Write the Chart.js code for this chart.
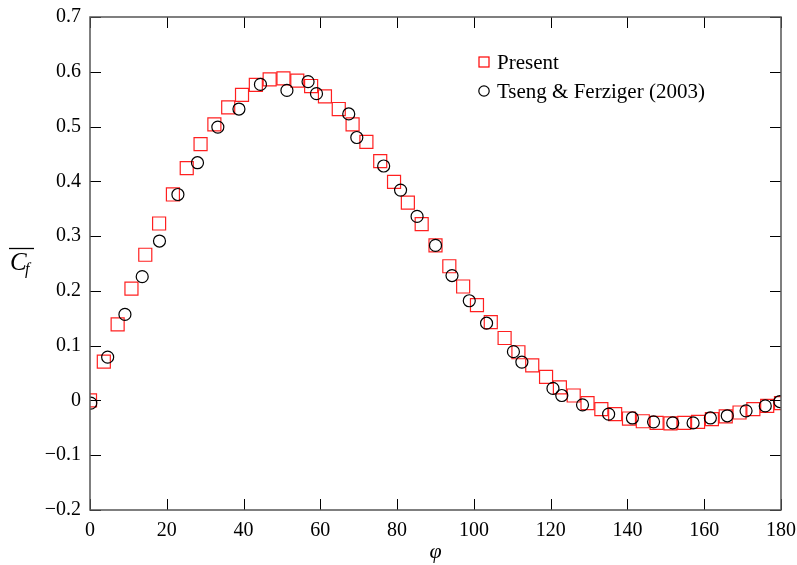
<!DOCTYPE html>
<html>
<head>
<meta charset="utf-8">
<script src="https://cdn.jsdelivr.net/npm/chart.js@4/dist/chart.umd.min.js"></script>
<style>
  body { margin: 0; background: #fff; }
  #wrap { width: 797px; height: 565px; }
</style>
</head>
<body>
<div id="wrap"><canvas id="c" width="797" height="565"></canvas></div>
<script>
// Present (red squares)
const presentPhi = [0, 3.6, 7.2, 10.8, 14.4, 18, 21.6, 25.2, 28.8, 32.4, 36, 39.6, 43.2, 46.8, 50.4, 54, 57.6,
  61.2, 64.8, 68.4, 72, 75.6, 79.2, 82.8, 86.4, 90, 93.6, 97.2, 100.8, 104.4, 108, 111.6, 115.2, 118.8,
  122.4, 126, 129.6, 133.2, 136.8, 140.4, 144, 147.6, 151.2, 154.8, 158.4, 162, 165.6, 169.2, 172.8, 176.4, 180];
const presentCf = [0.0, 0.071, 0.139, 0.204, 0.266, 0.323, 0.376, 0.424, 0.468, 0.504, 0.535, 0.558, 0.576, 0.586, 0.588, 0.584, 0.574,
  0.555, 0.532, 0.504, 0.472, 0.437, 0.399, 0.361, 0.322, 0.283, 0.245, 0.208, 0.174, 0.143, 0.114, 0.088, 0.064, 0.043,
  0.024, 0.009, -0.005, -0.016, -0.025, -0.033, -0.038, -0.041, -0.042, -0.041, -0.039, -0.034, -0.029, -0.022, -0.016, -0.010, -0.005];

// Tseng & Ferziger (2003) (black circles)
const tsengPhi = [0.2, 4.6, 9.1, 13.6, 18.1, 22.9, 28.0, 33.3, 38.8, 44.4, 51.3, 56.8, 59.0, 67.4, 69.5, 76.5, 80.9, 85.2,
  90.0, 94.3, 98.8, 103.3, 110.3, 112.5, 120.6, 122.9, 128.3, 135.1, 141.3, 146.8, 151.8, 157.1, 161.6, 166.0, 170.9, 175.9, 179.7];
const tsengCf = [-0.005, 0.079, 0.157, 0.226, 0.291, 0.376, 0.434, 0.499, 0.532, 0.577, 0.566, 0.582, 0.560, 0.523, 0.480, 0.428, 0.384, 0.336,
  0.283, 0.228, 0.182, 0.141, 0.089, 0.070, 0.022, 0.009, -0.008, -0.025, -0.032, -0.039, -0.041, -0.041, -0.032, -0.028, -0.019, -0.010, -0.002];

const xTicks = [0, 20, 40, 60, 80, 100, 120, 140, 160, 180];
const yTicks = [-0.2, -0.1, 0, 0.1, 0.2, 0.3, 0.4, 0.5, 0.6, 0.7];

const serif = "'Liberation Serif', 'Times New Roman', serif";

function toPoints(xs, ys) {
  return xs.map((x, i) => ({ x: x, y: ys[i] }));
}

// frame, inward ticks, legend and y title
const framePlugin = {
  id: 'frame',
  afterDraw(chart) {
    const { ctx, chartArea } = chart;
    const { left, right, top, bottom } = chartArea;
    const xs = chart.scales.x, ys = chart.scales.y;
    ctx.save();
    ctx.strokeStyle = '#000';
    ctx.lineWidth = 1;
    const tl = 11;
    ctx.beginPath();
    xTicks.forEach(v => {
      const px = Math.round(xs.getPixelForValue(v)) + 0.5;
      ctx.moveTo(px, bottom); ctx.lineTo(px, bottom - tl);
      ctx.moveTo(px, top); ctx.lineTo(px, top + tl);
    });
    yTicks.forEach(v => {
      const py = Math.round(ys.getPixelForValue(v)) + 0.5;
      ctx.moveTo(left, py); ctx.lineTo(left + tl, py);
      ctx.moveTo(right, py); ctx.lineTo(right - tl, py);
    });
    ctx.stroke();
    ctx.strokeStyle = '#555';
    ctx.lineWidth = 1.5;
    ctx.strokeRect(left, top, right - left, bottom - top);

    // legend
    ctx.lineWidth = 1.2;
    ctx.strokeStyle = '#ff0000';
    ctx.strokeRect(479, 57, 10, 10);
    ctx.strokeStyle = '#000';
    ctx.beginPath();
    ctx.arc(484, 91, 5.2, 0, Math.PI * 2);
    ctx.stroke();
    ctx.fillStyle = '#000';
    ctx.font = '21px ' + serif;
    ctx.textBaseline = 'alphabetic';
    ctx.textAlign = 'left';
    ctx.fillText('Present', 497, 69);
    ctx.fillText('Tseng & Ferziger (2003)', 497, 98);

    // y axis title: overline C_f
    ctx.font = 'italic 25px ' + serif;
    ctx.fillText('C', 10, 270);
    ctx.font = 'italic 16px ' + serif;
    ctx.fillText('f', 25, 274);
    ctx.beginPath();
    ctx.lineWidth = 1.3;
    ctx.moveTo(9, 248.5); ctx.lineTo(34, 248.5);
    ctx.stroke();
    ctx.restore();
  }
};

new Chart(document.getElementById('c'), {
  type: 'scatter',
  data: {
    datasets: [{
      label: 'Present',
      data: toPoints(presentPhi, presentCf),
      pointStyle: 'rect',
      pointRadius: 9.2,
      pointHoverRadius: 9.2,
      pointBorderWidth: 1.2,
      borderColor: '#ff2020',
      backgroundColor: 'rgba(0,0,0,0)',
      order: 1
    }, {
      label: 'Tseng & Ferziger (2003)',
      data: toPoints(tsengPhi, tsengCf),
      pointStyle: 'circle',
      pointRadius: 6,
      pointHoverRadius: 6,
      pointBorderWidth: 1.2,
      borderColor: '#000',
      backgroundColor: 'rgba(0,0,0,0)',
      order: 0
    }]
  },
  options: {
    responsive: false,
    animation: false,
    layout: { padding: { top: 17, right: 16, left: 0, bottom: 0 } },
    plugins: {
      legend: { display: false },
      tooltip: { enabled: false }
    },
    scales: {
      x: {
        type: 'linear',
        min: 0,
        max: 180,
        afterFit(scale) {
          scale.height = 55;
          scale.paddingLeft = 0;
          scale.paddingRight = 0;
        },
        afterBuildTicks(scale) { scale.ticks = xTicks.map(v => ({ value: v })); },
        grid: { display: false, drawTicks: false },
        border: { display: false },
        ticks: {
          color: '#000',
          padding: 9,
          font: { family: serif, size: 20 },
          maxRotation: 0,
          callback: v => String(v)
        },
        title: {
          display: true,
          text: 'φ',
          color: '#000',
          font: { family: serif, size: 22, style: 'italic' },
          padding: { top: 0, bottom: 0 }
        }
      },
      y: {
        type: 'linear',
        min: -0.2,
        max: 0.7,
        afterFit(scale) {
          scale.width = 90;
          scale.paddingTop = 0;
          scale.paddingBottom = 0;
        },
        afterBuildTicks(scale) { scale.ticks = yTicks.map(v => ({ value: v })); },
        grid: { display: false, drawTicks: false },
        border: { display: false },
        ticks: {
          color: '#000',
          padding: 9,
          font: { family: serif, size: 20 },
          callback: v => {
            const r = Math.round(v * 10) / 10;
            if (r === 0) return '0';
            return r < 0 ? '\u2212' + Math.abs(r).toFixed(1) : r.toFixed(1);
          }
        }
      }
    }
  },
  plugins: [framePlugin]
});
</script>
</body>
</html>
